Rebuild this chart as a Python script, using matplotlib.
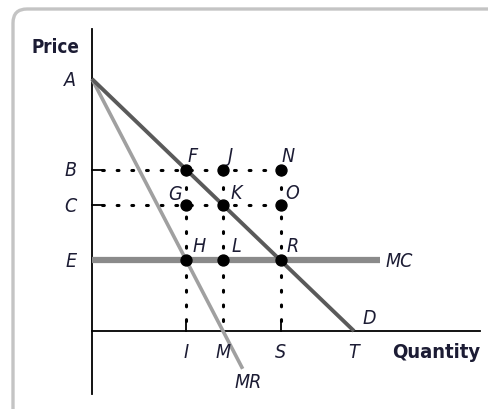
import matplotlib
matplotlib.use("Agg")
import matplotlib.pyplot as plt
from matplotlib.patches import FancyBboxPatch

# quantities on the horizontal axis
q_I, q_M, q_S, q_T = 3.6, 5.0, 7.2, 10.0
# prices on the vertical axis
p_A, p_B, p_C, p_E = 10.0, 6.4, 5.0, 2.8

# curves
demand_q = [0, q_T]
demand_p = [p_A, 0]
mr_q = [0, 5.75]
mr_p = [p_A, -1.5]
mc_q = [0, 11.0]
mc_p = [p_E, p_E]

# labelled points
pt_names = ["F", "J", "N", "G", "K", "O", "H", "L", "R"]
pt_q = [q_I, q_M, q_S, q_I, q_M, q_S, q_I, q_M, q_S]
pt_p = [p_B, p_B, p_B, p_C, p_C, p_C, p_E, p_E, p_E]

txt = "#1c1c34"
plt.rcParams["font.family"] = ["DejaVu Sans"]
plt.rcParams["font.stretch"] = "condensed"

fig = plt.figure(figsize=(4.88, 4.10), dpi=100)
ax = fig.add_axes([0, 0, 1, 1])
ax.set_xlim(-92 / 26.2, 396 / 26.2)
ax.set_ylim(-78 / 25.2, 332 / 25.2)
ax.axis("off")

# rounded frame
frame = FancyBboxPatch((13, -40), 520, 440, boxstyle="round,pad=0,rounding_size=14",
                       transform=None, fill=False, ec="#c4c4c4", lw=2.4, clip_on=False)
fig.patches.append(frame)

# axes
ax.plot([0, 0], [-2.5, 12.0], color="black", lw=1.3)
ax.plot([0, 14.8], [0, 0], color="black", lw=1.3)

dot = dict(color="black", lw=2.2, linestyle=(0, (0.6, 4.2)), dash_capstyle="round")
# horizontal guides
ax.plot([0.38, q_S], [p_B, p_B], **dot)
ax.plot([0.38, q_S], [p_C, p_C], **dot)
ax.plot([0, 0.38], [p_B, p_B], color="black", lw=1.3)
ax.plot([0, 0.38], [p_C, p_C], color="black", lw=1.3)
# vertical guides
ax.plot([q_I, q_I], [0.4, p_B], **dot)
ax.plot([q_M, q_M], [0.4, p_B], **dot)
ax.plot([q_S, q_S], [0.4, p_B], **dot)
ax.plot([q_I, q_I], [0, 0.4], color="black", lw=1.3)
ax.plot([q_S, q_S], [0, 0.4], color="black", lw=1.3)

# curves
ax.plot(mc_q, mc_p, color="#8a8a8a", lw=4.5, solid_capstyle="butt")
ax.plot(mr_q, mr_p, color="#a0a0a0", lw=2.6, solid_capstyle="butt")
ax.plot(demand_q, demand_p, color="#5a5a5a", lw=2.8, solid_capstyle="butt")

ax.scatter(pt_q, pt_p, s=62, color="black", zorder=5)

it = dict(color=txt, fontsize=14, style="italic")
# point labels
offs = {"F": (0.23, 0.55), "J": (0.3, 0.55), "N": (0.3, 0.55),
        "G": (-0.45, 0.45), "K": (0.5, 0.5), "O": (0.45, 0.5),
        "H": (0.5, 0.6), "L": (0.5, 0.6), "R": (0.45, 0.6)}
for n, q, p in zip(pt_names, pt_q, pt_p):
    dx, dy = offs[n]
    ax.text(q + dx, p + dy, n, ha="center", va="center", **it)

# axis letter labels
for lab, p in zip(["A", "B", "C", "E"], [p_A, p_B, p_C, p_E]):
    ax.text(-0.6, p, lab, ha="right", va="center", **it)
for lab, q in zip(["I", "M", "S", "T"], [q_I, q_M, q_S, q_T]):
    ax.text(q, -0.8, lab, ha="center", va="center", **it)

ax.text(10.6, 0.55, "D", ha="center", va="center", **it)
ax.text(11.2, p_E, "MC", ha="left", va="center", **it)
ax.text(5.95, -2.0, "MR", ha="center", va="center", **it)

ax.text(-0.5, 11.3, "Price", ha="right", va="center", color=txt, fontsize=13.5, weight="bold")
ax.text(13.15, -0.8, "Quantity", ha="center", va="center", color=txt, fontsize=14.5, weight="bold")

fig.savefig("out.png", dpi=100)
